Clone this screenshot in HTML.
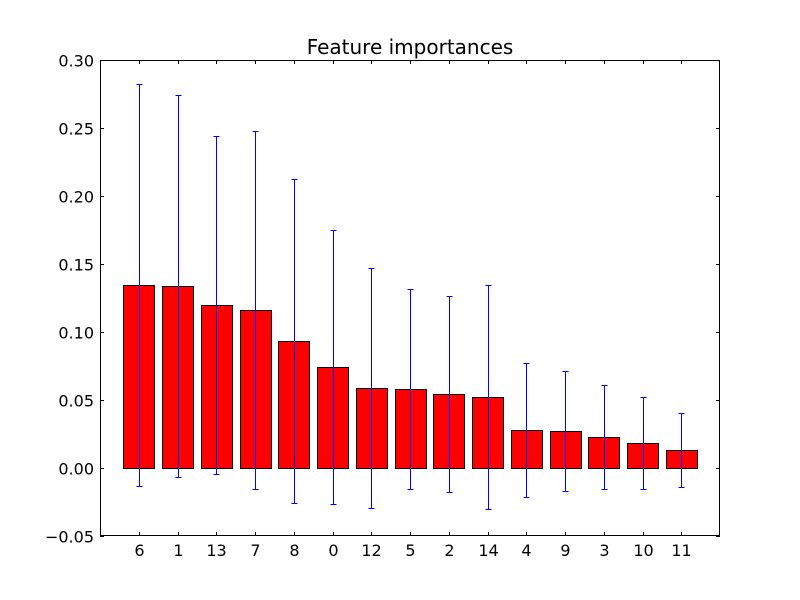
<!DOCTYPE html>
<html><head><meta charset="utf-8"><style>
body{margin:0;background:#fff;}
svg text{font-family:"DejaVu Sans","Liberation Sans",sans-serif;}
</style></head><body>
<svg id="chart" width="800" height="595" xmlns="http://www.w3.org/2000/svg">
<rect x="0" y="0" width="800" height="595" fill="#fff"/>
<text x="410" y="54" font-size="20" text-anchor="middle">Feature importances</text>
<g id="marks"></g>
<rect x="100.5" y="60.5" width="619" height="475" fill="none" stroke="#000" stroke-width="1"/>
</svg>
<script>
const categories = ["6","1","13","7","8","0","12","5","2","14","4","9","3","10","11"];
const importances = [0.1346,0.1338,0.1199,0.1162,0.0934,0.0743,0.0588,0.0581,0.0544,0.0522,0.0279,0.0272,0.0228,0.0184,0.0132];
const errors = [0.1478,0.1405,0.1242,0.1316,0.1191,0.1007,0.0882,0.0735,0.0721,0.0824,0.0493,0.0441,0.0382,0.0338,0.0272];
const yTicks = [-0.05,0.00,0.05,0.10,0.15,0.20,0.25,0.30];
const yTickLabels = ["\u22120.05","0.00","0.05","0.10","0.15","0.20","0.25","0.30"];

const L=100,R=720,T=60,B=536;
const yMin=-0.05,yMax=0.30,xMin=-1,xMax=15;
const yS=v=>B-(v-yMin)/(yMax-yMin)*(B-T);
const xS=v=>L+(v-xMin)/(xMax-xMin)*(R-L);
const px=v=>Math.round(v)+0.5;
const NS="http://www.w3.org/2000/svg";
const g=document.getElementById('marks');
function mk(tag,attrs){const e=document.createElementNS(NS,tag);for(const k in attrs)e.setAttribute(k,attrs[k]);g.appendChild(e);return e;}

yTicks.forEach((t,i)=>{
  const y=px(yS(t));
  const a=mk('line',{x1:L,x2:L+4,y1:y,y2:y,stroke:'#000'});
  
  
  const b=mk('line',{x1:R-4,x2:R,y1:y,y2:y,stroke:'#000'});
  
  
  const tx=mk('text',{x:L-6,y:y+6,'font-size':16,'text-anchor':'end'});
  tx.textContent=yTickLabels[i];
  
  
});

categories.forEach((c,i)=>{
  const x0=px(xS(i-0.4)),x1=px(xS(i+0.4)),xc=px(xS(i));
  const v=importances[i],e=errors[i];
  const y0=px(yS(0)),yv=px(yS(v));
  const bar=mk('rect',{x:x0,y:Math.min(yv,y0),width:x1-x0,height:Math.abs(y0-yv),fill:'#ff0000',stroke:'#000','stroke-width':1});
  
  
  const el=mk('line',{x1:xc,x2:xc,y1:px(yS(v-e)),y2:px(yS(v+e)),stroke:'#0000ff','stroke-width':1});
  
  
  [v-e,v+e].forEach(w=>{
    const cap=mk('line',{x1:xc-3,x2:xc+3,y1:px(yS(w)),y2:px(yS(w)),stroke:'#0000ff','stroke-width':1});
    
    
  });
  const t1=mk('line',{x1:xc,x2:xc,y1:B,y2:B-4,stroke:'#000'});
  
  
  const t2=mk('line',{x1:xc,x2:xc,y1:T,y2:T+4,stroke:'#000'});
  
  
  const lb=mk('text',{x:xc,y:B+20,'font-size':16,'text-anchor':'middle'});
  lb.textContent=c;
  
  
});
</script>
</body></html>
